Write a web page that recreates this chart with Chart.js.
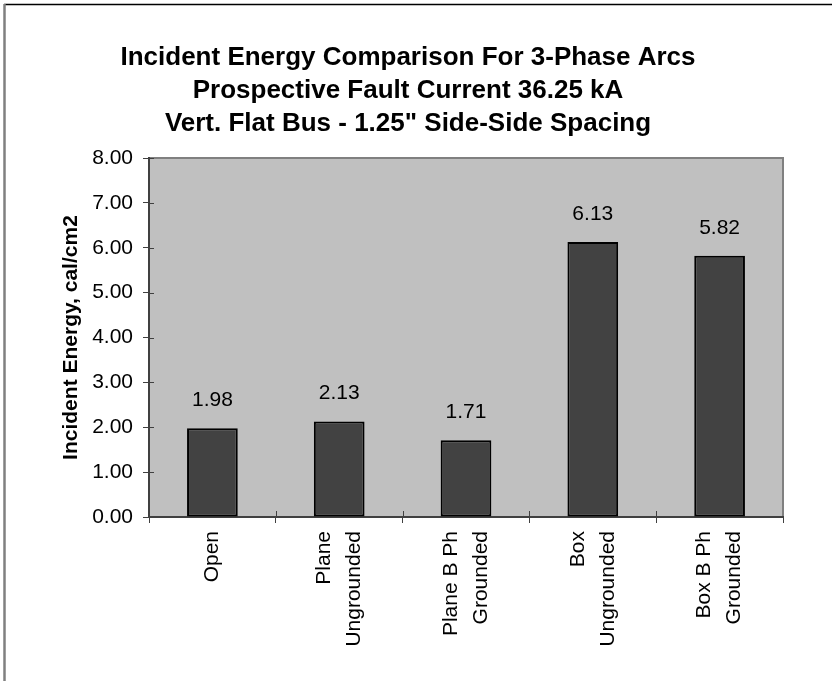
<!DOCTYPE html>
<html>
<head>
<meta charset="utf-8">
<script src="https://cdn.jsdelivr.net/npm/chart.js@4.4.1/dist/chart.umd.min.js"></script>
<style>
  body { margin: 0; background: #fff; }
  canvas { display: block; }
</style>
</head>
<body>
<canvas id="grafico" width="832" height="681"></canvas>
<script>
// Dados do gráfico
const categorias = [
    ["Open"],
    ["Plane", "Ungrounded"],
    ["Plane B Ph", "Grounded"],
    ["Box", "Ungrounded"],
    ["Box B Ph", "Grounded"]
];
const energia = [1.98, 2.13, 1.71, 6.13, 5.82];
const tituloLinhas = [
    "Incident Energy Comparison For 3-Phase Arcs",
    "Prospective Fault Current 36.25 kA",
    "Vert. Flat Bus - 1.25\" Side-Side Spacing"
];
const tituloEixoY = "Incident Energy, cal/cm2";

Chart.defaults.font.family = "'Liberation Sans', Arial, sans-serif";
Chart.defaults.color = "#000";

const ALTURA_LINHA_X = 30; // 21px * 1.43

// Fundo cinza da área do gráfico + moldura
const fundoPlugin = {
    id: "fundo",
    beforeDraw(chart) {
        const { ctx, chartArea: a } = chart;
        ctx.save();
        ctx.fillStyle = "#c0c0c0";
        ctx.fillRect(a.left, a.top, a.right - a.left, a.bottom - a.top);
        ctx.strokeStyle = "#808080";
        ctx.lineWidth = 2;
        ctx.beginPath();
        ctx.moveTo(a.left, a.top);
        ctx.lineTo(a.right, a.top);
        ctx.lineTo(a.right, a.bottom);
        ctx.stroke();
        // borda externa
        ctx.strokeStyle = "#000";
        ctx.lineWidth = 1.3;
        ctx.beginPath();
        ctx.moveTo(4, 4.5);
        ctx.lineTo(832, 4.5);
        ctx.stroke();
        ctx.strokeStyle = "#808080";
        ctx.lineWidth = 2.5;
        ctx.beginPath();
        ctx.moveTo(4.5, 4);
        ctx.lineTo(4.5, 681);
        ctx.stroke();
        ctx.restore();

        // centraliza os rótulos de várias linhas sobre a marca do eixo x
        const itens = chart.scales.x.getLabelItems();
        itens.forEach((it) => {
            const n = Array.isArray(it.label) ? it.label.length : 1;
            it.options.translation[0] -= (n - 1) * ALTURA_LINHA_X / 2;
        });
    },
    afterDraw(chart) {
        // pequenas marcas para dentro (cruzando os eixos)
        const { ctx, chartArea: a, scales } = chart;
        ctx.save();
        ctx.strokeStyle = "#404040";
        ctx.lineWidth = 1;
        ctx.beginPath();
        scales.y.ticks.forEach((t) => {
            const y = Math.round(scales.y.getPixelForValue(t.value)) + 0.5;
            ctx.moveTo(a.left, y);
            ctx.lineTo(a.left + 5, y);
        });
        for (let i = 1; i < categorias.length; i++) {
            const x = Math.round((scales.x.getPixelForValue(i - 1) + scales.x.getPixelForValue(i)) / 2) + 0.5;
            ctx.moveTo(x, a.bottom);
            ctx.lineTo(x, a.bottom - 6);
        }
        ctx.stroke();
        ctx.restore();
    },
    afterDatasetsDraw(chart) {
        // rótulos dos valores acima das barras
        const { ctx } = chart;
        const meta = chart.getDatasetMeta(0);
        ctx.save();
        ctx.fillStyle = "#000";
        ctx.font = "21px 'Liberation Sans', Arial, sans-serif";
        ctx.textAlign = "center";
        ctx.textBaseline = "alphabetic";
        meta.data.forEach((bar, i) => {
            ctx.fillText(energia[i].toFixed(2), bar.x, bar.y - 22);
        });
        ctx.restore();
    }
};

const ctx = document.getElementById("grafico").getContext("2d");
const grafico = new Chart(ctx, {
    type: "bar",
    data: {
        labels: categorias,
        datasets: [{
            data: energia,
            backgroundColor: "#424242",
            borderColor: "#000",
            borderWidth: 2,
            borderSkipped: false,
            categoryPercentage: 1,
            barPercentage: 0.4
        }]
    },
    options: {
        responsive: false,
        animation: false,
        layout: {
            padding: { left: 33, right: 49, top: 0, bottom: 0 }
        },
        plugins: {
            legend: { display: false },
            tooltip: { enabled: false },
            title: {
                display: true,
                text: tituloLinhas,
                color: "#000",
                font: { size: 26, weight: "bold", lineHeight: 1.27 },
                padding: { top: 41, bottom: 18 }
            }
        },
        scales: {
            x: {
                offset: true,
                grid: {
                    offset: true,
                    drawOnChartArea: false,
                    tickLength: 6,
                    color: "#404040",
                    lineWidth: 1
                },
                border: { color: "#404040", width: 2 },
                ticks: {
                    minRotation: 90,
                    maxRotation: 90,
                    padding: 8,
                    color: "#000",
                    font: { size: 21, lineHeight: 1.43 }
                },
                afterFit(scale) { scale.height = 164; }
            },
            y: {
                min: 0,
                max: 8,
                grid: {
                    drawOnChartArea: false,
                    tickLength: 6,
                    color: "#404040",
                    lineWidth: 1
                },
                border: { color: "#404040", width: 2 },
                ticks: {
                    stepSize: 1,
                    padding: 10,
                    color: "#000",
                    font: { size: 21 },
                    callback: (v) => v.toFixed(2)
                },
                title: {
                    display: true,
                    text: tituloEixoY,
                    color: "#000",
                    font: { size: 21, weight: "bold" },
                    padding: { top: 26, bottom: 0 }
                },
                afterFit(scale) { scale.width = 116; }
            }
        }
    },
    plugins: [fundoPlugin]
});
</script>
</body>
</html>
